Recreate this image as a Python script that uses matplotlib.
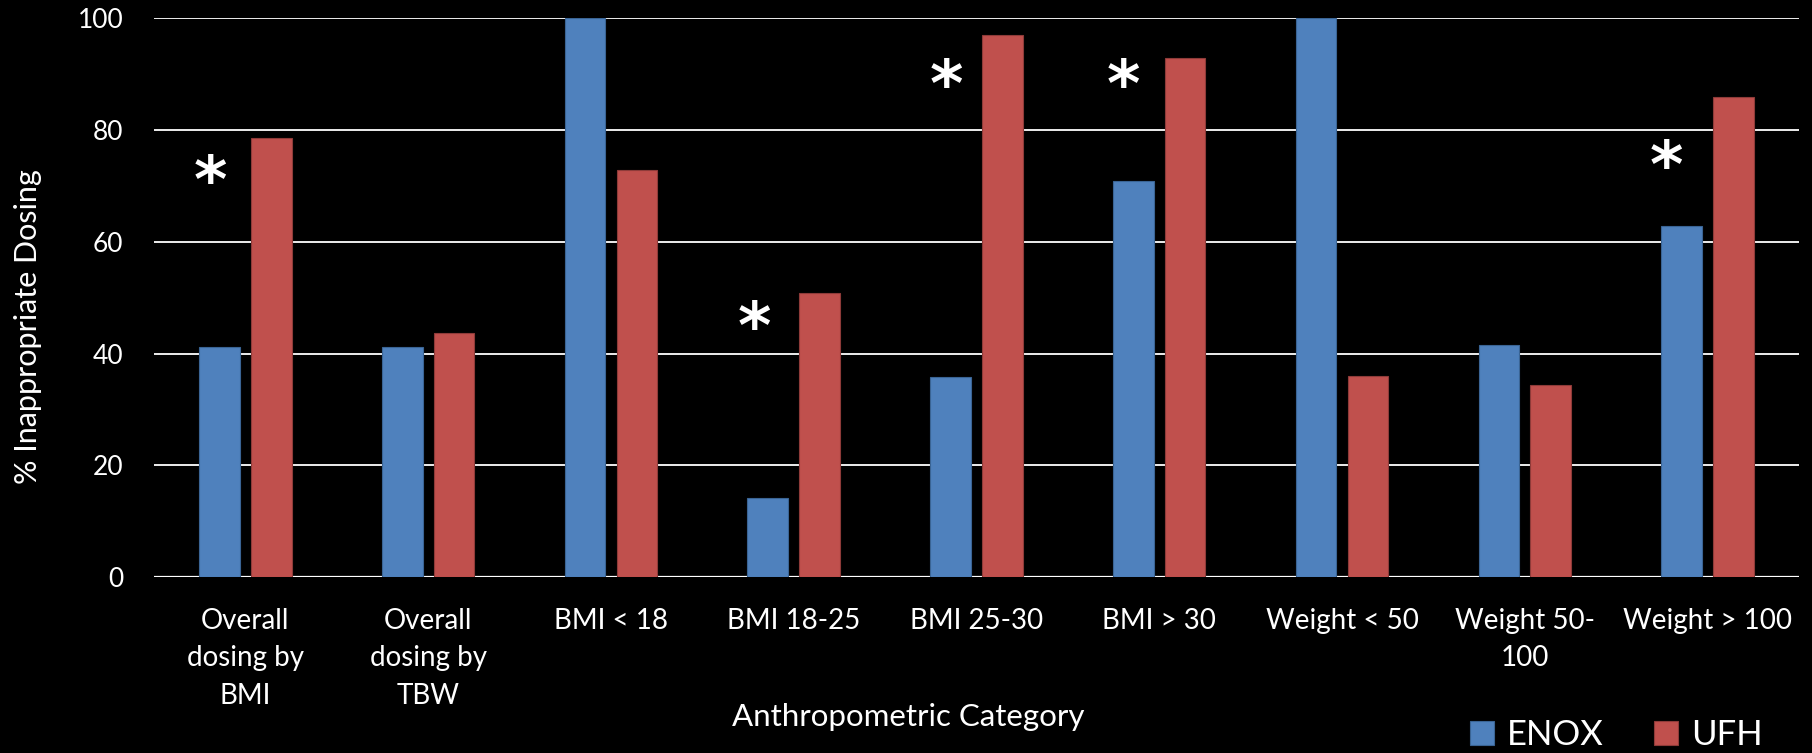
import matplotlib.pyplot as plt
import numpy as np

# data
categories = ["Overall\ndosing by\nBMI", "Overall\ndosing by\nTBW", "BMI < 18", "BMI 18-25",
              "BMI 25-30", "BMI > 30", "Weight < 50", "Weight 50-\n100", "Weight > 100"]
enox = [41.2, 41.2, 100, 14.2, 35.8, 70.9, 100, 41.6, 62.8]
ufh = [78.5, 43.6, 72.9, 50.9, 97.0, 92.9, 36.0, 34.3, 86.0]

# significance markers: category index and height
star_cat = [0, 3, 4, 5, 8]
star_y = [72.7, 46.7, 89.9, 89.9, 75.5]
star_dx = [-0.19, -0.216, -0.167, -0.197, -0.224]

BLUE = "#4F81BD"
RED = "#C0504D"

plt.rcParams["font.family"] = ["Lato", "DejaVu Sans"]

fig = plt.figure(figsize=(18.12, 7.53), dpi=100, facecolor="black")
ax = fig.add_axes([0.085, 0.2337, 0.9078, 0.7419], facecolor="black")

x = np.arange(len(categories))
w = 0.222
off = 0.142
ax.bar(x - off, enox, w, color=BLUE, edgecolor="#3A6494", linewidth=0.8, zorder=3, label="ENOX")
ax.bar(x + off, ufh, w, color=RED, edgecolor="#8E3B39", linewidth=0.8, zorder=3, label="UFH")

# asterisks, nudged so the glyph itself (not its text box) sits on the point
for c, y, dx in zip(star_cat, star_y, star_dx):
    ax.annotate("*", (c + dx, y), xytext=(0, -5), textcoords="offset points",
                color="white", fontsize=46, fontweight="bold", ha="center",
                va="center_baseline", family="DejaVu Sans", zorder=4)

ax.set_xlim(-0.5, 8.5)
ax.set_ylim(0, 100)
ax.set_yticks(range(0, 101, 20))
ax.yaxis.grid(True, color="white", linewidth=1.3, zorder=0)
ax.set_axisbelow(True)
for s in ax.spines.values():
    s.set_visible(False)
ax.axhline(0, color="white", linewidth=1.6, zorder=2)

ax.set_xticks(x, categories, linespacing=1.55)
ax.tick_params(axis="x", length=0, pad=22, labelsize=20, colors="white")
ax.tick_params(axis="y", length=0, pad=22, labelsize=19, colors="white")

fig.text(0.0155, 0.566, "% Inappropriate Dosing", rotation=90, color="white",
         fontsize=22, ha="center", va="center")
fig.text(0.501, 0.036, "Anthropometric Category", color="white", fontsize=22.5,
         ha="center", va="baseline")

leg = fig.legend(loc="center left", bbox_to_anchor=(1470 / 1812, 1 - 735 / 753), ncol=2,
                 frameon=False, fontsize=25, handlelength=0.7, handleheight=0.7,
                 handletextpad=0.37, columnspacing=1.44, borderpad=0, borderaxespad=0)
for t in leg.get_texts():
    t.set_color("white")

fig.savefig("out.png", dpi=100, facecolor="black")
